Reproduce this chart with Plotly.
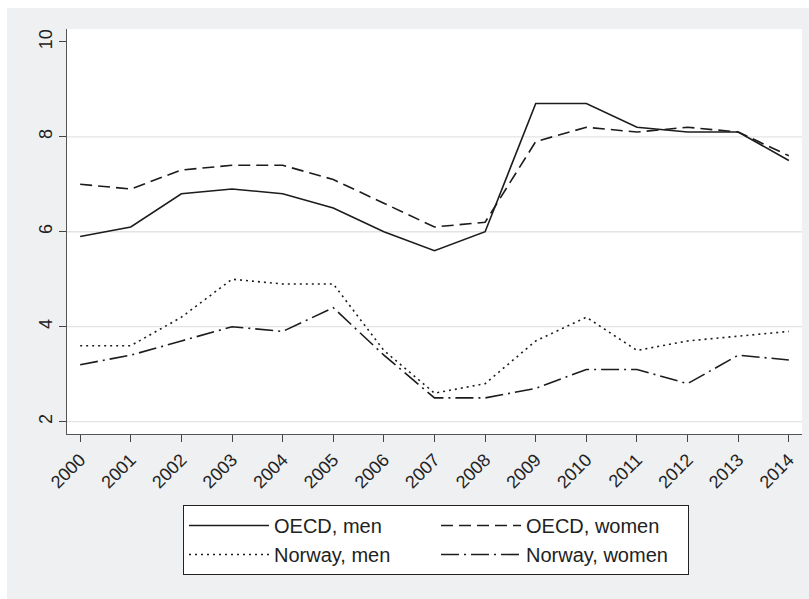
import plotly.graph_objects as go

# Unemployment rate (%) by year
years = list(range(2000, 2015))
oecd_men = [5.9, 6.1, 6.8, 6.9, 6.8, 6.5, 6.0, 5.6, 6.0, 8.7, 8.7, 8.2, 8.1, 8.1, 7.5]
oecd_women = [7.0, 6.9, 7.3, 7.4, 7.4, 7.1, 6.6, 6.1, 6.2, 7.9, 8.2, 8.1, 8.2, 8.1, 7.6]
norway_men = [3.6, 3.6, 4.2, 5.0, 4.9, 4.9, 3.5, 2.6, 2.8, 3.7, 4.2, 3.5, 3.7, 3.8, 3.9]
norway_women = [3.2, 3.4, 3.7, 4.0, 3.9, 4.4, 3.4, 2.5, 2.5, 2.7, 3.1, 3.1, 2.8, 3.4, 3.3]

y_ticks = [2, 4, 6, 8, 10]
grid_values = [2, 4, 6, 8]

series = [
    ("OECD, men", oecd_men, "solid"),
    ("OECD, women", oecd_women, "12px,6px"),
    ("Norway, men", norway_men, "2px,4px"),
    ("Norway, women", norway_women, "18px,5px,2px,5px"),
]

W, H = 809, 599
ML, MR, MT, MB = 67, 7, 29, 165
plot_w = W - ML - MR
plot_h = H - MT - MB

LINE = "#1c1c1c"
BG = "#eef0f2"
FONT = "Liberation Sans, Arial, sans-serif"

fig = go.Figure()
for name, vals, dash in series:
    fig.add_trace(go.Scatter(
        x=years, y=vals, name=name, mode="lines",
        line=dict(color=LINE, width=1.6, dash=dash),
    ))

def px_x(p):
    return (p - ML) / plot_w

def px_y(p):
    return (H - MB - p) / plot_h

shapes = []
# horizontal grid lines
for g in grid_values:
    shapes.append(dict(type="line", xref="x domain", yref="y", x0=0, x1=1, y0=g, y1=g,
                       line=dict(color="#e4e4e4", width=1.3), layer="below"))
# thin white border along the left and top edges of the page
shapes.append(dict(type="rect", xref="paper", yref="paper",
                   x0=px_x(0), x1=px_x(7), y0=px_y(H), y1=px_y(0),
                   fillcolor="white", line=dict(width=0), layer="below"))
shapes.append(dict(type="rect", xref="paper", yref="paper",
                   x0=px_x(0), x1=px_x(W), y0=px_y(8), y1=px_y(0),
                   fillcolor="white", line=dict(width=0), layer="below"))

fig.update_layout(
    width=W, height=H,
    margin=dict(l=ML, r=MR, t=MT, b=MB, pad=0),
    paper_bgcolor=BG,
    plot_bgcolor="white",
    font=dict(family=FONT, color="#222222", size=18),
    shapes=shapes,
    showlegend=True,
    legend=dict(
        orientation="h",
        x=px_x(183), xanchor="left",
        y=px_y(505), yanchor="top",
        xref="paper", yref="paper",
        bgcolor="white", bordercolor="#222222", borderwidth=1,
        font=dict(family=FONT, size=20, color="#222222"),
        itemwidth=80,
        entrywidth=157, entrywidthmode="pixels",
        traceorder="normal",
    ),
    xaxis=dict(
        range=[1999.74, 2014.26],
        tickmode="array", tickvals=years, ticktext=[str(y) for y in years],
        tickangle=-45,
        ticks="outside", ticklen=7, tickwidth=1.2, tickcolor="#444444",
        showline=True, linecolor="#555555", linewidth=1.3,
        showgrid=False, zeroline=False,
        tickfont=dict(size=18),
    ),
    yaxis=dict(
        range=[1.74, 10.27],
        tickmode="array", tickvals=y_ticks,
        tickangle=-90,
        ticks="outside", ticklen=7, tickwidth=1.2, tickcolor="#444444",
        showline=True, linecolor="#555555", linewidth=1.3,
        showgrid=False, zeroline=False,
        tickfont=dict(size=18),
    ),
)

fig.write_html("out.html")
